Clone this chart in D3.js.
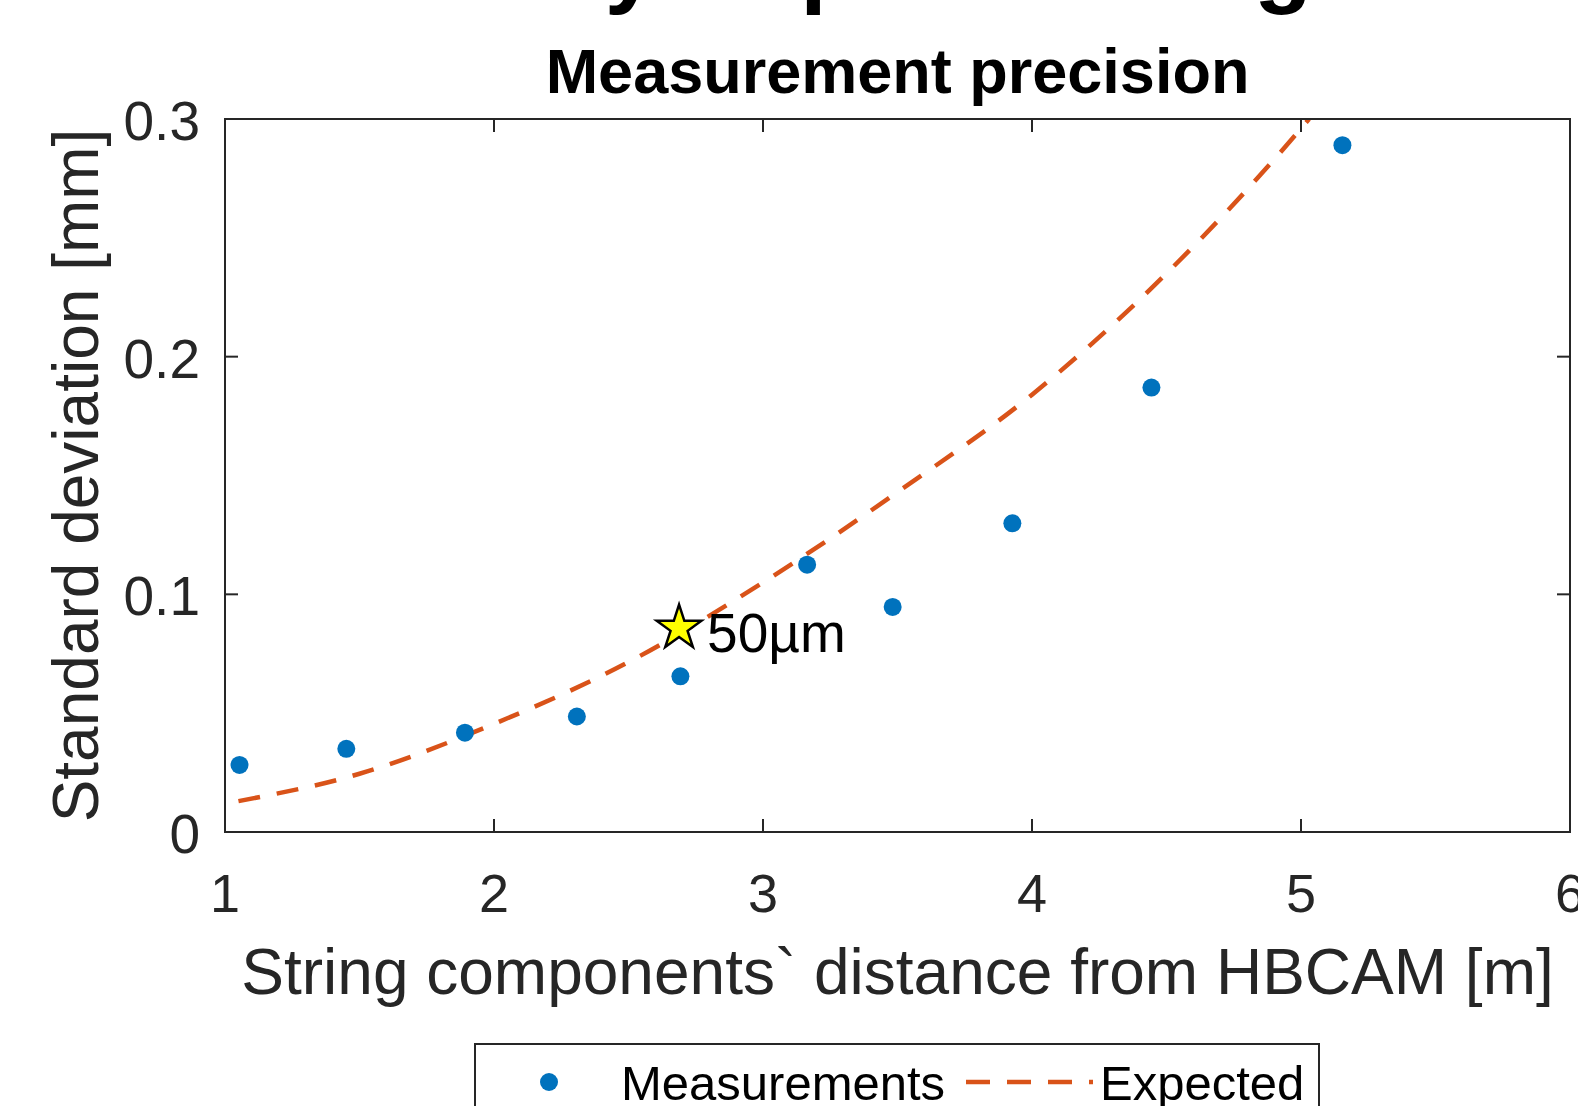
<!DOCTYPE html>
<html>
<head>
<meta charset="utf-8">
<script src="https://cdn.jsdelivr.net/npm/d3@7"></script>
<style>
  html, body { margin: 0; padding: 0; background: #fff; overflow: hidden; }
  text { font-family: "Liberation Sans", Arial, Helvetica, sans-serif; }
</style>
</head>
<body>
<script>
var width = 1578,
    height = 1106;

// Measured points (distance [m], std dev [mm])
var measDist = [1.054, 1.451, 1.892, 2.308, 2.693, 3.164, 3.482, 3.927, 4.444, 5.154];
var measStd  = [0.0282, 0.0350, 0.0418, 0.0486, 0.0655, 0.1125, 0.0947, 0.1299, 0.1870, 0.289];

// Expected curve
var expDist = [1.05, 1.5, 2.0, 2.5, 3.0, 3.5, 4.0, 4.5, 5.0, 5.03];
var expStd  = [0.013, 0.0245, 0.0455, 0.0715, 0.105, 0.143, 0.184, 0.235, 0.296, 0.300];

// Highlighted point
var starDist = 2.688, starStd = 0.0858, starLabel = "50\u00b5m";

var xTicks = [1, 2, 3, 4, 5, 6];
var yTicks = [0, 0.1, 0.2, 0.3];

var axisColor = "#262626",
    blue = "#0072BD",
    orange = "#D95319";

var margin = {left: 225, top: 119, right: 1570, bottom: 832};

var x = d3.scaleLinear().domain([1, 6]).range([margin.left, margin.right]);
var y = d3.scaleLinear().domain([0, 0.3]).range([margin.bottom, margin.top]);

var svg = d3.select("body").append("svg")
    .attr("width", width)
    .attr("height", height);

// clipped super title (only descenders show)
svg.append("text")
    .attr("x", 1312)
    .attr("y", -5)
    .attr("text-anchor", "end")
    .attr("font-size", 95)
    .attr("font-weight", "bold")
    .text("Accuracy of positioning");

svg.append("defs").append("clipPath").attr("id", "plotclip")
  .append("rect")
    .attr("x", margin.left).attr("y", margin.top)
    .attr("width", margin.right - margin.left)
    .attr("height", margin.bottom - margin.top);

// expected curve
var line = d3.line()
    .x(function(d) { return x(d[0]); })
    .y(function(d) { return y(d[1]); })
    .curve(d3.curveMonotoneX);

svg.append("path")
    .datum(d3.zip(expDist, expStd))
    .attr("clip-path", "url(#plotclip)")
    .attr("d", line)
    .attr("fill", "none")
    .attr("stroke", orange)
    .attr("stroke-width", 4.5)
    .attr("stroke-dasharray", "22,17");

// measurement dots
svg.selectAll("circle.meas")
    .data(d3.zip(measDist, measStd))
  .enter().append("circle")
    .attr("class", "meas")
    .attr("cx", function(d) { return x(d[0]); })
    .attr("cy", function(d) { return y(d[1]); })
    .attr("r", 9)
    .attr("fill", blue);

// axes box + ticks
var axes = svg.append("g");
axes.append("rect")
    .attr("x", margin.left).attr("y", margin.top)
    .attr("width", margin.right - margin.left)
    .attr("height", margin.bottom - margin.top)
    .attr("fill", "none")
    .attr("stroke", axisColor)
    .attr("stroke-width", 2);

var tickLen = 13;
xTicks.forEach(function(t) {
    axes.append("line")
        .attr("x1", x(t)).attr("x2", x(t))
        .attr("y1", margin.bottom).attr("y2", margin.bottom - tickLen)
        .attr("stroke", axisColor).attr("stroke-width", 2);
    axes.append("line")
        .attr("x1", x(t)).attr("x2", x(t))
        .attr("y1", margin.top).attr("y2", margin.top + tickLen)
        .attr("stroke", axisColor).attr("stroke-width", 2);
    axes.append("text")
        .attr("x", x(t)).attr("y", margin.bottom + 80)
        .attr("text-anchor", "middle")
        .attr("font-size", 54)
        .attr("fill", axisColor)
        .text(t);
});

yTicks.forEach(function(t) {
    axes.append("line")
        .attr("x1", margin.left).attr("x2", margin.left + tickLen)
        .attr("y1", y(t)).attr("y2", y(t))
        .attr("stroke", axisColor).attr("stroke-width", 2);
    axes.append("line")
        .attr("x1", margin.right).attr("x2", margin.right - tickLen)
        .attr("y1", y(t)).attr("y2", y(t))
        .attr("stroke", axisColor).attr("stroke-width", 2);
    axes.append("text")
        .attr("x", margin.left - 25).attr("y", y(t) + 21)
        .attr("text-anchor", "end")
        .attr("font-size", 55)
        .attr("fill", axisColor)
        .text(t === 0 ? "0" : d3.format(".1f")(t));
});

// star annotation
var star = d3.symbol().type(d3.symbolStar).size(620);
svg.append("path")
    .attr("d", star)
    .attr("transform", "translate(" + x(starDist) + "," + y(starStd) + ")")
    .attr("fill", "#FFFF00")
    .attr("stroke", "#000")
    .attr("stroke-width", 2.5);

svg.append("text")
    .attr("x", x(starDist) + 28)
    .attr("y", y(starStd) + 24)
    .attr("font-size", 55)
    .attr("fill", "#000")
    .text(starLabel);

// titles
svg.append("text")
    .attr("x", (margin.left + margin.right) / 2)
    .attr("y", 93)
    .attr("text-anchor", "middle")
    .attr("font-size", 63)
    .attr("font-weight", "bold")
    .attr("fill", "#000")
    .text("Measurement precision");

svg.append("text")
    .attr("x", (margin.left + margin.right) / 2)
    .attr("y", 994)
    .attr("text-anchor", "middle")
    .attr("font-size", 64)
    .attr("fill", axisColor)
    .text("String components` distance from HBCAM [m]");

svg.append("text")
    .attr("transform", "translate(98," + (margin.top + margin.bottom) / 2 + ") rotate(-90)")
    .attr("text-anchor", "middle")
    .attr("font-size", 64)
    .attr("fill", axisColor)
    .text("Standard deviation [mm]");

// legend
var legend = svg.append("g");
legend.append("rect")
    .attr("x", 475).attr("y", 1044)
    .attr("width", 844).attr("height", 120)
    .attr("fill", "#fff")
    .attr("stroke", axisColor)
    .attr("stroke-width", 2);

legend.append("circle")
    .attr("cx", 549).attr("cy", 1082)
    .attr("r", 9)
    .attr("fill", blue);

legend.append("text")
    .attr("x", 621).attr("y", 1100)
    .attr("font-size", 49)
    .attr("fill", "#000")
    .text("Measurements");

legend.append("line")
    .attr("x1", 966).attr("x2", 1093)
    .attr("y1", 1082).attr("y2", 1082)
    .attr("stroke", orange)
    .attr("stroke-width", 4.5)
    .attr("stroke-dasharray", "24,17");

legend.append("text")
    .attr("x", 1100).attr("y", 1100)
    .attr("font-size", 49)
    .attr("fill", "#000")
    .text("Expected");
</script>
</body>
</html>
